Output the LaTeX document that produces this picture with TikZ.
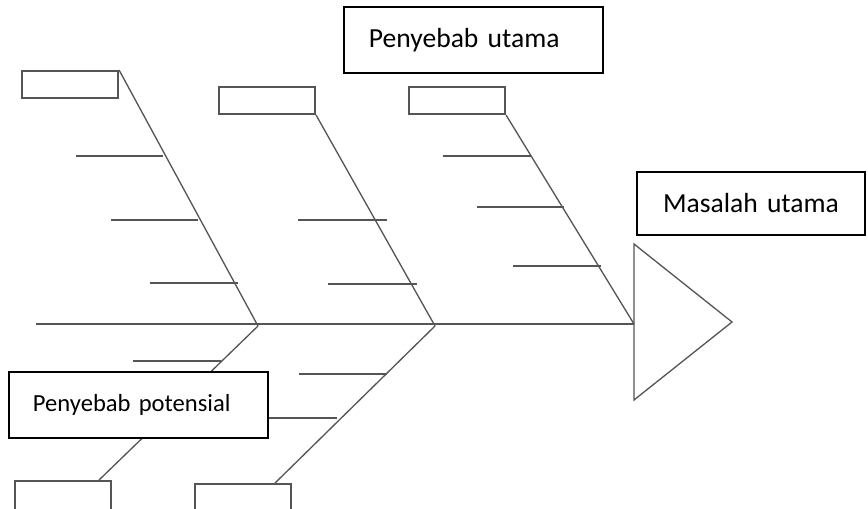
\documentclass[tikz,border=0pt]{standalone}
\usepackage{fontspec}
\setmainfont{Carlito}
\usetikzlibrary{positioning}
\definecolor{bonegray}{RGB}{85,85,85}

\begin{document}
\begin{tikzpicture}[x=0.02cm, y=-0.02cm,
    bone/.style={bonegray, line width=0.75pt},
    smallbox/.style={draw=bonegray, line width=0.9pt, fill=white, minimum width=1.93cm, minimum height=0.55cm, inner sep=0pt, anchor=north west},
    labelbox/.style={draw=black, line width=1.1pt, fill=white, inner ysep=0pt, anchor=north west, font=\fontsize{15.7}{19}\selectfont}]
  \useasboundingbox (0,0) rectangle (868,509);
  \clip (0,0) rectangle (868,509);

  % kotak kecil (penyebab)
  \node[smallbox] (c1) at (21,70) {};
  \node[smallbox] (c2) at (218,86) {};
  \node[smallbox] (c3) at (408,86) {};
  \node[smallbox, minimum height=0.8cm] (p1) at (14,480) {};
  \node[smallbox, minimum height=0.8cm] (p2) at (194,483) {};

  % tulang utama dan kepala ikan
  \coordinate (tail) at (36,324);
  \coordinate (head) at (634,324);
  \coordinate (j1) at (258,326);
  \coordinate (j2) at (435,326);
  \draw[bone] (tail) -- (head);
  \draw[bone] (634,244) -- (732,322) -- (634,400) -- cycle;

  % tulang cabang
  \draw[bone] (c1.north east) -- (j1);
  \draw[bone] (c2.south east) -- (j2);
  \draw[bone] (c3.south east) -- (head);
  \draw[bone] (j1) -- ([xshift=-0.26cm]p1.north east);
  \draw[bone] (j2) -- ([xshift=-0.34cm]p2.north east);

  % tulang kecil
  \foreach \xa/\xb/\y in {76/163/156, 111/198/220, 150/238/283,
      298/387/220, 328/417/284, 443/531/156, 477/564/207, 513/601/266,
      133/221/361, 299/387/374, 260/337/418}
    \draw[bone] (\xa,\y) -- (\xb,\y);

  % label
  \node[labelbox, minimum width=5.18cm, minimum height=1.32cm, text width=4.18cm, inner xsep=0.5cm, align=left] (utama) at (343,6) {Penyebab utama};
  \node[labelbox, minimum width=4.56cm, minimum height=1.26cm, text width=3.56cm, inner xsep=0.5cm, align=center] (masalah) at (636,171) {Masalah utama};
  \node[labelbox, minimum width=5.18cm, minimum height=1.32cm, text width=4.22cm, inner xsep=0.48cm, align=left, font=\fontsize{14}{17}\selectfont] (potensial) at (8,371) {Penyebab potensial};
\end{tikzpicture}
\end{document}
